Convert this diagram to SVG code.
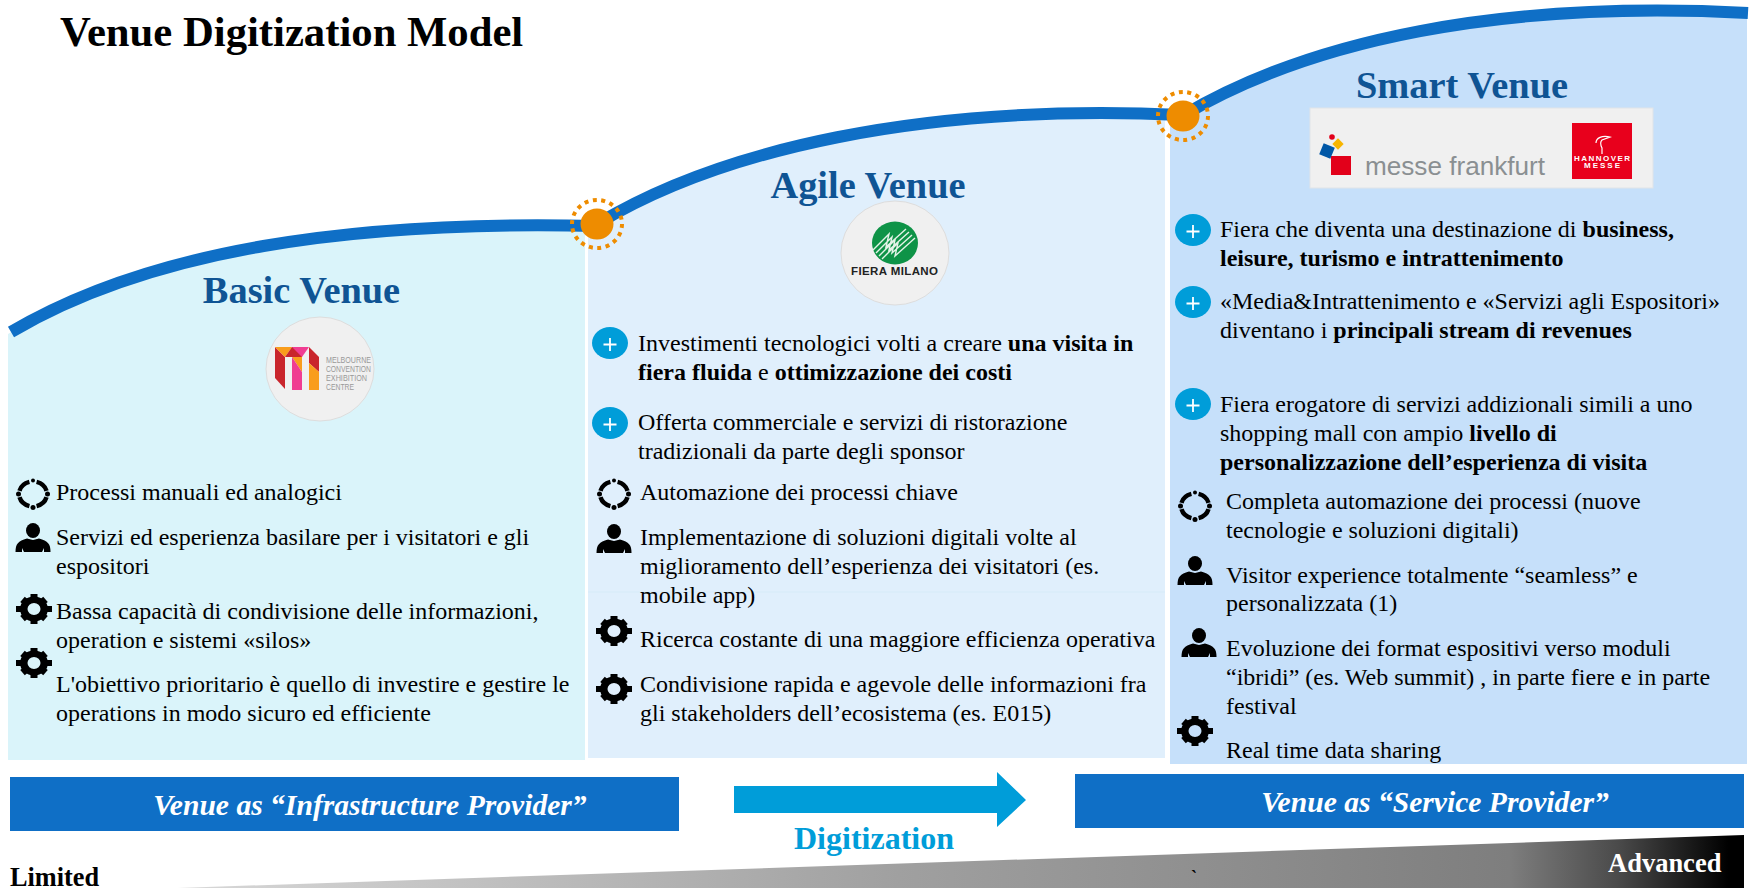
<svg xmlns="http://www.w3.org/2000/svg" width="1756" height="888" viewBox="0 0 1756 888">
<style>
text{font-family:"Liberation Serif","Times New Roman",serif}
.t{font-size:24px;fill:#000}
.b{font-weight:bold}
.h{font-size:38.4px;font-weight:bold;fill:#0F5494;text-anchor:middle}
.ban{font-size:29.6px;font-weight:bold;font-style:italic;fill:#fff;text-anchor:middle}
.pc{fill:#009DD9}
.ps{stroke:#fff;stroke-width:1.8;fill:none}
.lg{fill:#F0F0F0;stroke:#DDD;stroke-width:1}
.sans{font-family:"Liberation Sans",Arial,sans-serif}
.m{font-size:8.5px;fill:#999}
.dot{fill:#EE8C00}
.ring{fill:none;stroke:#EE8C00;stroke-width:4;stroke-dasharray:4 4.5}
.cur{fill:none;stroke:#0F6FC6;stroke-width:12}
</style>
<defs>
<linearGradient id="wg" gradientUnits="userSpaceOnUse" x1="178" y1="0" x2="1744" y2="0">
<stop offset="0" stop-color="#D8D8D8"/><stop offset="0.46" stop-color="#A0A0A0"/><stop offset="0.55" stop-color="#989898"/><stop offset="0.85" stop-color="#7E7E7E"/><stop offset="0.92" stop-color="#4A4A4A"/><stop offset="0.99" stop-color="#000"/><stop offset="1" stop-color="#000"/>
</linearGradient>
<g id="plus"><ellipse class="pc" rx="18" ry="16"/><path class="ps" d="M-6.500 1.500H6.500M0-5V8"/></g>
<g id="cyc"><path d="M3.600-12.100A14 12.500 0 0 1 13.500-3.200M13.500 3.200A14 12.500 0 0 1 3.600 12.100M-3.600 12.100A14 12.500 0 0 1-13.500 3.200M-13.500-3.200A14 12.500 0 0 1-3.600-12.100" fill="none" stroke="#000" stroke-width="4.500"/><circle cy="-13.500" r="2"/><circle cy="13.500" r="2.500"/><circle cx="-14.500" r="2.500"/><circle cx="14.500" r="2.500"/></g>
<g id="per"><ellipse cy="-7.500" rx="7" ry="7.500"/><path d="M-17.500 14C-17.500 6-15 3-6 .5L0 2L6 .5C15 3 17.500 6 17.500 14H11V10L9 14H-9L-11 10V14Z"/></g>
<g id="gear"><path fill-rule="evenodd" d="M-14 0A14 12.500 0 1 1 14 0A14 12.500 0 1 1-14 0ZM-6.500 0A6.500 6 0 1 0 6.500 0A6.500 6 0 1 0-6.500 0Z"/><rect x="-3.500" y="-15" width="7" height="5"/><rect x="-3.500" y="10" width="7" height="5"/><rect x="-18" y="-3" width="6" height="6"/><rect x="12" y="-3" width="6" height="6"/><rect x="-3.500" y="-15" width="7" height="5" transform="rotate(50)"/><rect x="-3.500" y="-15" width="7" height="5" transform="rotate(130)"/><rect x="-3.500" y="-15" width="7" height="5" transform="rotate(230)"/><rect x="-3.500" y="-15" width="7" height="5" transform="rotate(310)"/></g>
</defs>
<rect width="1756" height="888" fill="#fff"/>
<text x="60" y="46" font-size="42.700" font-weight="bold">Venue Digitization Model</text>

<g id="basic-venue">
<path d="M8 334C150 250 350 220 585 226V760H8Z" fill="#DAF4FA"/>
<text class="h" x="301.500" y="303">Basic Venue</text>
<g id="logo-mcec">
<ellipse class="lg" cx="320" cy="369" rx="54" ry="52"/>
<path d="M275 347L285 357V389L275 378Z" fill="#C9252C"/>
<path d="M275 347H292L285 357Z" fill="#F99D1C"/>
<path d="M292 347H309L302 357H292Z" fill="#F03D92"/>
<path d="M292 347L302 357H285Z" fill="#C9252C"/>
<path d="M292 357H302V372Z" fill="#F99D1C"/>
<path d="M292 357L302 372V390H292Z" fill="#F03D92"/>
<path d="M309 347L319 357V372L309 363Z" fill="#C9252C"/>
<path d="M309 363L319 372V390H309Z" fill="#F99D1C"/>
<text class="sans m" x="326" y="363" textLength="45" lengthAdjust="spacingAndGlyphs">MELBOURNE</text>
<text class="sans m" x="326" y="372" textLength="45" lengthAdjust="spacingAndGlyphs">CONVENTION</text>
<text class="sans m" x="326" y="381" textLength="41" lengthAdjust="spacingAndGlyphs">EXHIBITION</text>
<text class="sans m" x="326" y="390" textLength="28" lengthAdjust="spacingAndGlyphs">CENTRE</text>
</g>
<use href="#cyc" x="33" y="494"/>
<text class="t" x="56" y="500">Processi manuali ed analogici</text>
<use href="#per" x="33" y="538"/>
<text class="t" x="56" y="545">Servizi ed esperienza basilare per i visitatori e gli</text>
<text class="t" x="56" y="574">espositori</text>
<use href="#gear" x="34" y="609"/>
<text class="t" x="56" y="619">Bassa capacità di condivisione delle informazioni,</text>
<text class="t" x="56" y="648">operation e sistemi «silos»</text>
<use href="#gear" x="34" y="663"/>
<text class="t" x="56" y="692">L'obiettivo prioritario è quello di investire e gestire le</text>
<text class="t" x="56" y="721">operations in modo sicuro ed efficiente</text>
</g>

<g id="agile-venue">
<path d="M588 226C720 150 920 105 1165 117V758H588Z" fill="#E0EFFC"/>
<rect x="588" y="591.500" width="577" height="1" fill="#D6ECF8"/>
<text class="h" x="868" y="198">Agile Venue</text>
<g id="logo-fiera">
<ellipse class="lg" cx="895" cy="253" rx="54" ry="52"/>
<ellipse cx="895" cy="243" rx="23" ry="21.500" fill="#0E9347"/>
<path d="M873 250L889 234L886 247L906 229M876 253L892 237L889 250L909 232M879 256L895 240L892 253L912 235M882 259L898 243L895 256L915 238" fill="none" stroke="#E4F3E8" stroke-width="1.400"/>
<text class="sans" x="894.500" y="275" font-size="11.500" font-weight="bold" fill="#222" text-anchor="middle" textLength="87">FIERA MILANO</text>
</g>
<use href="#plus" x="610" y="343"/>
<text class="t" x="638" y="351">Investimenti tecnologici volti a creare <tspan class="b">una visita in</tspan></text>
<text class="t" x="638" y="380"><tspan class="b">fiera fluida</tspan> e <tspan class="b">ottimizzazione dei costi</tspan></text>
<use href="#plus" x="610" y="423"/>
<text class="t" x="638" y="430">Offerta commerciale e servizi di ristorazione</text>
<text class="t" x="638" y="459">tradizionali da parte degli sponsor</text>
<use href="#cyc" x="614" y="494"/>
<text class="t" x="640" y="500">Automazione dei processi chiave</text>
<use href="#per" x="614" y="539"/>
<text class="t" x="640" y="545">Implementazione di soluzioni digitali volte al</text>
<text class="t" x="640" y="574">miglioramento dell’esperienza dei visitatori (es.</text>
<text class="t" x="640" y="603">mobile app)</text>
<use href="#gear" x="614" y="631"/>
<text class="t" x="640" y="647">Ricerca costante di una maggiore efficienza operativa</text>
<use href="#gear" x="614" y="689"/>
<text class="t" x="640" y="692">Condivisione rapida e agevole delle informazioni fra</text>
<text class="t" x="640" y="721">gli stakeholders dell’ecosistema (es. E015)</text>
</g>

<g id="smart-venue">
<path d="M1170 122C1300 50 1500 0 1747 13V764H1170Z" fill="#C6E0FA"/>
<text class="h" x="1462" y="97.500">Smart Venue</text>
<g id="logo-messe">
<rect x="1310" y="108" width="343" height="80" fill="#F0F0F0" stroke="#E0E4E8"/>
<rect x="1331" y="156" width="20" height="19" fill="#E2001A"/>
<rect x="1321" y="145" width="12" height="12" fill="#0057A6" transform="rotate(22 1327 151)"/>
<rect x="1334" y="140" width="8" height="8" fill="#F7B500" transform="rotate(45 1338 144)"/>
<circle cx="1332" cy="137" r="2.800" fill="#E2001A"/>
<text class="sans" x="1365" y="175" font-size="25" fill="#8A8F92" textLength="180" lengthAdjust="spacingAndGlyphs">messe frankfurt</text>
<rect x="1572" y="123" width="60" height="56" fill="#E8001C"/>
<path d="M1596 143C1596 138 1602 135 1610 137L1602 140C1600 142 1601 146 1602 148V154" fill="none" stroke="#fff" stroke-width="1.200"/>
<text class="sans" x="1602" y="161" font-size="8" font-weight="bold" fill="#fff" text-anchor="middle" textLength="56">HANNOVER</text>
<text class="sans" x="1602" y="168" font-size="8" font-weight="bold" fill="#fff" text-anchor="middle" textLength="36">MESSE</text>
</g>
<use href="#plus" x="1193" y="230"/>
<text class="t" x="1220" y="237">Fiera che diventa una destinazione di <tspan class="b">business,</tspan></text>
<text class="t b" x="1220" y="266">leisure, turismo e intrattenimento</text>
<use href="#plus" x="1193" y="302"/>
<text class="t" x="1220" y="309">«Media&amp;Intrattenimento e «Servizi agli Espositori»</text>
<text class="t" x="1220" y="338">diventano i <tspan class="b">principali stream di revenues</tspan></text>
<use href="#plus" x="1193" y="404"/>
<text class="t" x="1220" y="412">Fiera erogatore di servizi addizionali simili a uno</text>
<text class="t" x="1220" y="441">shopping mall con ampio <tspan class="b">livello di</tspan></text>
<text class="t b" x="1220" y="470">personalizzazione dell’esperienza di visita</text>
<use href="#cyc" x="1195" y="506"/>
<text class="t" x="1226" y="509">Completa automazione dei processi (nuove</text>
<text class="t" x="1226" y="538">tecnologie e soluzioni digitali)</text>
<use href="#per" x="1195" y="571"/>
<text class="t" x="1226" y="583">Visitor experience totalmente “seamless” e</text>
<text class="t" x="1226" y="611">personalizzata (1)</text>
<use href="#per" x="1199" y="643"/>
<text class="t" x="1226" y="656">Evoluzione dei format espositivi verso moduli</text>
<text class="t" x="1226" y="685">“ibridi” (es. Web summit) , in parte fiere e in parte</text>
<text class="t" x="1226" y="714">festival</text>
<use href="#gear" x="1195" y="731"/>
<text class="t" x="1226" y="758">Real time data sharing</text>
</g>

<g id="connectors">
<path class="cur" d="M11 332C150 250 350 220 597 226"/>
<path class="cur" d="M597 224C720 150 920 103 1182 115"/>
<path class="cur" d="M1182 116C1310 40 1500 0 1748 13"/>
</g>
<g id="milestone-1"><ellipse class="ring" cx="597" cy="224" rx="25" ry="24"/><ellipse class="dot" cx="597" cy="224" rx="16.500" ry="15.500"/></g>
<g id="milestone-2"><ellipse class="ring" cx="1183" cy="116" rx="25" ry="24"/><ellipse class="dot" cx="1183" cy="116" rx="16.500" ry="15.500"/></g>

<g id="banner-infrastructure"><rect x="10" y="777" width="669" height="54" fill="#0F6FC6"/><text class="ban" x="370" y="815">Venue as “Infrastructure Provider”</text></g>
<g id="digitization-arrow"><path d="M734 786H997V772L1026 800L997 827V813H734Z" fill="#009DD9"/><text x="874" y="849" font-size="32" font-weight="bold" fill="#009DD9" text-anchor="middle">Digitization</text></g>
<g id="banner-service"><rect x="1075" y="774" width="669" height="54" fill="#0F6FC6"/><text class="ban" x="1435" y="812">Venue as “Service Provider”</text></g>
<g id="scale"><path d="M178 888L1744 835V888Z" fill="url(#wg)"/>
<text x="10" y="886" font-size="26.300" font-weight="bold">Limited</text>
<text x="1191" y="883" font-size="18" font-weight="bold">`</text>
<text x="1608" y="872" font-size="26.500" font-weight="bold" fill="#fff">Advanced</text></g>
</svg>
